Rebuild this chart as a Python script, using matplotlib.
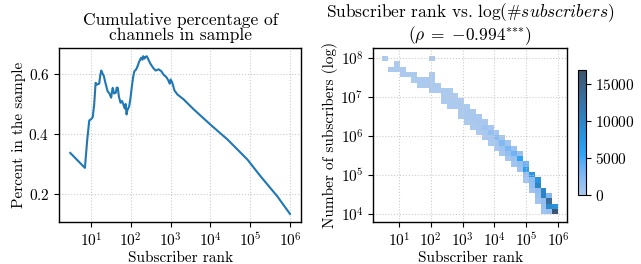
import matplotlib

matplotlib.use("Agg")
import matplotlib.pyplot as plt
import numpy as np
from matplotlib.colors import ListedColormap, to_rgba
from matplotlib.ticker import LogLocator, NullLocator
from seaborn.external import husl

plt.rcParams["font.family"] = "cmr10"
plt.rcParams["mathtext.fontset"] = "cm"
plt.rcParams["axes.formatter.use_mathtext"] = True
plt.rcParams["font.size"] = 11

# left panel: cumulative share of channels in sample, by subscriber rank
rank = [3, 7, 8, 9, 10, 11, 12, 13, 14, 16, 17, 18, 19, 21, 23, 26, 29, 32, 34,
        35, 38, 42, 44, 47, 50, 55, 60, 65, 70, 74, 78, 82, 86, 91, 98, 105,
        114, 123, 135, 148, 160, 170, 182, 195, 205, 220, 234, 250, 270, 282,
        310, 363, 420, 501, 580, 676, 780, 891, 950, 1000, 1096, 1250, 1479,
        2138, 3802, 10000, 26915, 85114, 181970, 478630, 1000000]
share = [0.336, 0.286, 0.38, 0.445, 0.449, 0.456, 0.50, 0.571, 0.565, 0.568,
         0.595, 0.612, 0.605, 0.593, 0.57, 0.543, 0.535, 0.521, 0.545, 0.554,
         0.535, 0.538, 0.555, 0.554, 0.525, 0.504, 0.51, 0.498, 0.485, 0.50,
         0.465, 0.48, 0.485, 0.493, 0.52, 0.554, 0.59, 0.61, 0.615, 0.627,
         0.64, 0.648, 0.655, 0.648, 0.66, 0.652, 0.657, 0.66, 0.652, 0.646,
         0.635, 0.621, 0.612, 0.616, 0.61, 0.597, 0.59, 0.577, 0.568, 0.582,
         0.572, 0.545, 0.532, 0.515, 0.482, 0.431, 0.381, 0.314, 0.258, 0.191,
         0.132]

# right panel: 2d histogram in log10 units (30 x 30 bins)
x_edges = np.linspace(np.log10(3), 6, 31)
y_edges = np.linspace(4.0, 8.05, 31)
# (x bin, y bin, count)
cells = [
    (0, 29, 1), (1, 27, 2), (2, 27, 2), (2, 28, 1), (3, 26, 2), (3, 27, 3),
    (4, 26, 5), (5, 25, 4), (5, 26, 6), (6, 24, 5), (6, 25, 10),
    (7, 24, 10), (7, 25, 12),
    (8, 23, 5), (8, 24, 15), (8, 25, 10), (8, 26, 3), (8, 29, 1),
    (9, 23, 20), (9, 24, 10),
    (10, 21, 10), (10, 22, 30), (10, 23, 15),
    (11, 20, 10), (11, 21, 40), (11, 22, 30), (11, 23, 5),
    (12, 20, 40), (12, 21, 50), (12, 22, 10),
    (13, 18, 20), (13, 19, 60), (13, 20, 120), (13, 21, 40),
    (14, 17, 30), (14, 18, 80), (14, 19, 180), (14, 20, 50),
    (15, 16, 40), (15, 17, 120), (15, 18, 250), (15, 19, 80),
    (16, 15, 60), (16, 16, 180), (16, 17, 380), (16, 18, 120),
    (17, 14, 80), (17, 15, 250), (17, 16, 900), (17, 17, 200),
    (18, 13, 100), (18, 14, 350), (18, 15, 1500), (18, 16, 300),
    (19, 12, 150), (19, 13, 500), (19, 14, 2200), (19, 15, 400),
    (20, 11, 300), (20, 12, 900), (20, 13, 2500), (20, 14, 500),
    (21, 10, 400), (21, 11, 1500), (21, 12, 2800), (21, 13, 700),
    (22, 9, 600), (22, 10, 1200), (22, 11, 3400), (22, 12, 1000),
    (23, 8, 800), (23, 9, 1500), (23, 10, 6000), (23, 11, 1200),
    (24, 6, 600), (24, 7, 1500), (24, 8, 6500), (24, 9, 3500),
    (25, 4, 800), (25, 5, 1500), (25, 6, 1800), (25, 7, 7500),
    (26, 2, 700), (26, 3, 1200), (26, 4, 1800), (26, 5, 10000), (26, 6, 8000),
    (27, 0, 800), (27, 1, 1200), (27, 2, 1600), (27, 3, 10500), (27, 4, 10000),
    (28, 0, 1200), (28, 1, 9500), (28, 2, 13500), (28, 3, 2500),
    (29, 0, 16900), (29, 1, 8000),
]


def cmap_from_color(color):
    # same ramp seaborn uses for bivariate histograms
    r, g, b, _ = to_rgba(color)
    h, s, _ = husl.rgb_to_husl(r, g, b)
    xx = np.linspace(-1, 1, int(1.15 * 256))[:256]
    ramp = np.zeros((256, 3))
    ramp[:, 0] = h
    ramp[:, 1] = s * np.cos(xx)
    ramp[:, 2] = np.linspace(35, 80, 256)
    colors = np.clip([husl.husl_to_rgb(*hsl) for hsl in ramp], 0, 1)
    return ListedColormap(colors[::-1])


def style_axes(ax, logy=False):
    ax.xaxis.set_major_locator(LogLocator(base=10, numticks=20))
    ax.xaxis.set_minor_locator(NullLocator())
    if logy:
        ax.yaxis.set_major_locator(LogLocator(base=10, numticks=20))
        ax.yaxis.set_minor_locator(NullLocator())
    ax.grid(True, linestyle=":", color="#cccccc", linewidth=0.8)
    ax.tick_params(which="both", direction="out", length=3.5, width=0.8)
    for sp in ax.spines.values():
        sp.set_linewidth(1.0)


fig = plt.figure(figsize=(6.41, 2.64), dpi=100)

ax1 = fig.add_axes([0.0925, 0.160, 0.377, 0.657])
ax1.plot(rank, share, color="#1f77b4", linewidth=1.5)
ax1.set_xscale("log")
ax1.set_yticks([0.2, 0.4, 0.6])
ax1.set_xlabel("Subscriber rank", labelpad=1)
ax1.set_ylabel("Percent in the sample", labelpad=2)
ax1.set_title("Cumulative percentage of\nchannels in sample", fontsize=12.5,
              linespacing=1.0)
style_axes(ax1)

counts = np.zeros((len(y_edges) - 1, len(x_edges) - 1))
for i, j, c in cells:
    counts[j, i] = c
counts = np.ma.masked_less_equal(counts, 0)

ax2 = fig.add_axes([0.5824, 0.159, 0.302, 0.658])
mesh = ax2.pcolormesh(10 ** x_edges, 10 ** y_edges, counts,
                      cmap=cmap_from_color("#1f77b4"), vmin=0)
mesh.sticky_edges.x[:] = []
mesh.sticky_edges.y[:] = []
ax2.set_xscale("log")
ax2.set_yscale("log")
ax2.autoscale_view()
ax2.set_xlabel("Subscriber rank", labelpad=1)
ax2.set_ylabel("Number of subscribers (log)", labelpad=2)
ax2.set_title("Subscriber rank vs. log(#$subscribers$)\n"
              "($\\rho\\;=\\;{-}0.994^{{*}{*}{*}}$)", fontsize=12.5,
              linespacing=1.0)
style_axes(ax2, logy=True)

cax = fig.add_axes([0.901, 0.261, 0.0125, 0.473])
cb = fig.colorbar(mesh, cax=cax)
cb.set_ticks([0, 5000, 10000, 15000])
cb.ax.tick_params(length=3.5, width=0.8)

fig.savefig("out.png", dpi=100)
